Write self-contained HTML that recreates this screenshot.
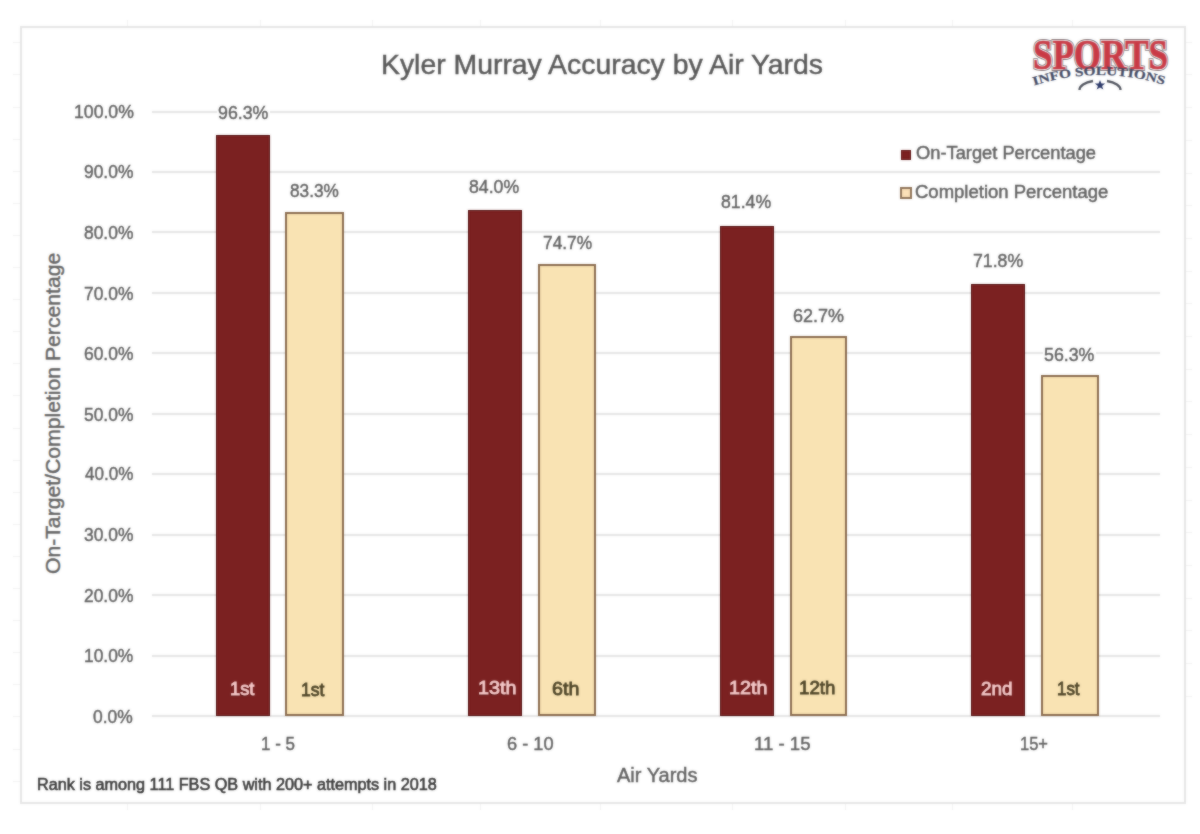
<!DOCTYPE html>
<html><head><meta charset="utf-8"><style>
html,body{margin:0;padding:0;background:#ffffff;}
body{width:1200px;height:834px;position:relative;overflow:hidden;font-family:"Liberation Sans",sans-serif;}
#w{position:absolute;left:0;top:0;width:1200px;height:834px;}
.t{position:absolute;white-space:nowrap;transform-origin:0 0;-webkit-text-stroke:0.45px currentColor;}
.g{position:absolute;height:2px;background:#e6e6e6;box-shadow:0 0 1px #ececec;}
.bar{position:absolute;box-sizing:border-box;}
.w2{position:absolute;left:0;top:0;width:1200px;height:834px;background:#fff;filter:blur(1px);opacity:0.5;}
</style></head><body><div id="w">
<div style="position:absolute;left:20px;top:26px;width:1166px;height:778px;box-sizing:border-box;border:2px solid #e6e6e6;"></div>
<div style="position:absolute;left:13px;top:42.3px;width:7px;height:1px;background:#f3f3f3;"></div><div style="position:absolute;left:13px;top:74.4px;width:7px;height:1px;background:#f3f3f3;"></div><div style="position:absolute;left:13px;top:106.5px;width:7px;height:1px;background:#f3f3f3;"></div><div style="position:absolute;left:13px;top:138.6px;width:7px;height:1px;background:#f3f3f3;"></div><div style="position:absolute;left:13px;top:170.7px;width:7px;height:1px;background:#f3f3f3;"></div><div style="position:absolute;left:13px;top:202.8px;width:7px;height:1px;background:#f3f3f3;"></div><div style="position:absolute;left:13px;top:234.9px;width:7px;height:1px;background:#f3f3f3;"></div><div style="position:absolute;left:13px;top:267.0px;width:7px;height:1px;background:#f3f3f3;"></div><div style="position:absolute;left:13px;top:299.1px;width:7px;height:1px;background:#f3f3f3;"></div><div style="position:absolute;left:13px;top:331.2px;width:7px;height:1px;background:#f3f3f3;"></div><div style="position:absolute;left:13px;top:363.3px;width:7px;height:1px;background:#f3f3f3;"></div><div style="position:absolute;left:13px;top:395.4px;width:7px;height:1px;background:#f3f3f3;"></div><div style="position:absolute;left:13px;top:427.5px;width:7px;height:1px;background:#f3f3f3;"></div><div style="position:absolute;left:13px;top:459.6px;width:7px;height:1px;background:#f3f3f3;"></div><div style="position:absolute;left:13px;top:491.7px;width:7px;height:1px;background:#f3f3f3;"></div><div style="position:absolute;left:13px;top:523.8px;width:7px;height:1px;background:#f3f3f3;"></div><div style="position:absolute;left:13px;top:555.9px;width:7px;height:1px;background:#f3f3f3;"></div><div style="position:absolute;left:13px;top:588.0px;width:7px;height:1px;background:#f3f3f3;"></div><div style="position:absolute;left:13px;top:620.1px;width:7px;height:1px;background:#f3f3f3;"></div><div style="position:absolute;left:13px;top:652.2px;width:7px;height:1px;background:#f3f3f3;"></div><div style="position:absolute;left:13px;top:684.3px;width:7px;height:1px;background:#f3f3f3;"></div><div style="position:absolute;left:13px;top:716.4px;width:7px;height:1px;background:#f3f3f3;"></div><div style="position:absolute;left:13px;top:748.5px;width:7px;height:1px;background:#f3f3f3;"></div><div style="position:absolute;left:13px;top:780.6px;width:7px;height:1px;background:#f3f3f3;"></div><div style="position:absolute;left:127px;top:20px;width:1px;height:6px;background:#f3f3f3;"></div><div style="position:absolute;left:127px;top:804px;width:1px;height:6px;background:#f3f3f3;"></div><div style="position:absolute;left:260px;top:20px;width:1px;height:6px;background:#f3f3f3;"></div><div style="position:absolute;left:260px;top:804px;width:1px;height:6px;background:#f3f3f3;"></div><div style="position:absolute;left:372px;top:20px;width:1px;height:6px;background:#f3f3f3;"></div><div style="position:absolute;left:372px;top:804px;width:1px;height:6px;background:#f3f3f3;"></div><div style="position:absolute;left:480px;top:20px;width:1px;height:6px;background:#f3f3f3;"></div><div style="position:absolute;left:480px;top:804px;width:1px;height:6px;background:#f3f3f3;"></div><div style="position:absolute;left:600px;top:20px;width:1px;height:6px;background:#f3f3f3;"></div><div style="position:absolute;left:600px;top:804px;width:1px;height:6px;background:#f3f3f3;"></div><div style="position:absolute;left:732px;top:20px;width:1px;height:6px;background:#f3f3f3;"></div><div style="position:absolute;left:732px;top:804px;width:1px;height:6px;background:#f3f3f3;"></div><div style="position:absolute;left:845px;top:20px;width:1px;height:6px;background:#f3f3f3;"></div><div style="position:absolute;left:845px;top:804px;width:1px;height:6px;background:#f3f3f3;"></div><div style="position:absolute;left:952px;top:20px;width:1px;height:6px;background:#f3f3f3;"></div><div style="position:absolute;left:952px;top:804px;width:1px;height:6px;background:#f3f3f3;"></div><div style="position:absolute;left:1072px;top:20px;width:1px;height:6px;background:#f3f3f3;"></div><div style="position:absolute;left:1072px;top:804px;width:1px;height:6px;background:#f3f3f3;"></div><div style="position:absolute;left:1186px;top:695.7px;width:6px;height:1px;background:#f3f3f3;"></div><div style="position:absolute;left:1186px;top:663.0px;width:6px;height:1px;background:#f3f3f3;"></div><div style="position:absolute;left:1186px;top:630.3px;width:6px;height:1px;background:#f3f3f3;"></div><div style="position:absolute;left:1186px;top:597.6px;width:6px;height:1px;background:#f3f3f3;"></div><div style="position:absolute;left:1186px;top:564.9px;width:6px;height:1px;background:#f3f3f3;"></div><div style="position:absolute;left:1186px;top:532.2px;width:6px;height:1px;background:#f3f3f3;"></div><div style="position:absolute;left:1186px;top:499.5px;width:6px;height:1px;background:#f3f3f3;"></div><div style="position:absolute;left:1186px;top:466.8px;width:6px;height:1px;background:#f3f3f3;"></div><div style="position:absolute;left:1186px;top:434.1px;width:6px;height:1px;background:#f3f3f3;"></div><div style="position:absolute;left:1186px;top:401.4px;width:6px;height:1px;background:#f3f3f3;"></div><div style="position:absolute;left:1186px;top:368.7px;width:6px;height:1px;background:#f3f3f3;"></div><div style="position:absolute;left:1186px;top:336.0px;width:6px;height:1px;background:#f3f3f3;"></div><div style="position:absolute;left:1186px;top:303.3px;width:6px;height:1px;background:#f3f3f3;"></div><div style="position:absolute;left:1186px;top:270.6px;width:6px;height:1px;background:#f3f3f3;"></div><div style="position:absolute;left:1186px;top:237.9px;width:6px;height:1px;background:#f3f3f3;"></div><div style="position:absolute;left:1186px;top:205.2px;width:6px;height:1px;background:#f3f3f3;"></div><div style="position:absolute;left:1186px;top:172.5px;width:6px;height:1px;background:#f3f3f3;"></div><div style="position:absolute;left:1186px;top:139.8px;width:6px;height:1px;background:#f3f3f3;"></div><div style="position:absolute;left:1186px;top:107.1px;width:6px;height:1px;background:#f3f3f3;"></div><div style="position:absolute;left:1186px;top:74.4px;width:6px;height:1px;background:#f3f3f3;"></div><div style="position:absolute;left:1186px;top:41.7px;width:6px;height:1px;background:#f3f3f3;"></div>
<div class="g" style="left:152px;top:715.0px;width:1008px;"></div>
<div class="g" style="left:152px;top:654.5px;width:1008px;"></div>
<div class="g" style="left:152px;top:594.1px;width:1008px;"></div>
<div class="g" style="left:152px;top:533.6px;width:1008px;"></div>
<div class="g" style="left:152px;top:473.2px;width:1008px;"></div>
<div class="g" style="left:152px;top:412.8px;width:1008px;"></div>
<div class="g" style="left:152px;top:352.3px;width:1008px;"></div>
<div class="g" style="left:152px;top:291.8px;width:1008px;"></div>
<div class="g" style="left:152px;top:231.4px;width:1008px;"></div>
<div class="g" style="left:152px;top:170.9px;width:1008px;"></div>
<div class="g" style="left:152px;top:110.5px;width:1008px;"></div>
<div class="bar" style="left:215.6px;top:135.1px;width:54.7px;height:580.9px;background:#7b2121;border:1.8px solid #520c0c;"></div>
<div class="bar" style="left:468.4px;top:209.6px;width:53.4px;height:506.4px;background:#7b2121;border:1.8px solid #520c0c;"></div>
<div class="bar" style="left:719.8px;top:225.9px;width:54.6px;height:490.1px;background:#7b2121;border:1.8px solid #520c0c;"></div>
<div class="bar" style="left:971.1px;top:283.7px;width:54.2px;height:432.3px;background:#7b2121;border:1.8px solid #520c0c;"></div>
<div class="bar" style="left:285.2px;top:211.5px;width:59.1px;height:504.5px;background:#f9e3b3;border:2px solid #8a6b4e;"></div>
<div class="bar" style="left:537.8px;top:264.2px;width:58.1px;height:451.8px;background:#f9e3b3;border:2px solid #8a6b4e;"></div>
<div class="bar" style="left:789.6px;top:335.8px;width:57.9px;height:380.2px;background:#f9e3b3;border:2px solid #8a6b4e;"></div>
<div class="bar" style="left:1041.0px;top:375.1px;width:57.6px;height:340.9px;background:#f9e3b3;border:2px solid #8a6b4e;"></div>
<div style="position:absolute;left:216.9px;top:103.5px;width:52.8px;height:17.8px;background:#fff;"></div>
<div style="position:absolute;left:288.7px;top:182.2px;width:51.6px;height:17.1px;background:#fff;"></div>
<div style="position:absolute;left:468.0px;top:177.5px;width:52.9px;height:17.1px;background:#fff;"></div>
<div style="position:absolute;left:541.6px;top:233.7px;width:51.9px;height:17.0px;background:#fff;"></div>
<div style="position:absolute;left:719.9px;top:193.3px;width:52.9px;height:17.0px;background:#fff;"></div>
<div style="position:absolute;left:791.2px;top:305.4px;width:53.0px;height:18.1px;background:#fff;"></div>
<div style="position:absolute;left:972.5px;top:251.4px;width:52.4px;height:17.2px;background:#fff;"></div>
<div style="position:absolute;left:1043.4px;top:345.3px;width:52.8px;height:17.3px;background:#fff;"></div>
<div class="t" style="left:381.37px;top:50.70px;font-size:28.00px;line-height:28.00px;font-weight:normal;color:#585858;transform:scaleX(1.0133);">Kyler Murray Accuracy by Air Yards</div>
<div class="t" style="left:93.00px;top:706.71px;font-size:19.00px;line-height:19.00px;font-weight:normal;color:#626262;transform:scaleX(0.9184);">0.0%</div>
<div class="t" style="left:84.49px;top:646.11px;font-size:19.00px;line-height:19.00px;font-weight:normal;color:#626262;transform:scaleX(0.9139);">10.0%</div>
<div class="t" style="left:84.40px;top:585.51px;font-size:19.00px;line-height:19.00px;font-weight:normal;color:#626262;transform:scaleX(0.9165);">20.0%</div>
<div class="t" style="left:84.40px;top:524.91px;font-size:19.00px;line-height:19.00px;font-weight:normal;color:#626262;transform:scaleX(0.9165);">30.0%</div>
<div class="t" style="left:85.40px;top:464.31px;font-size:19.00px;line-height:19.00px;font-weight:normal;color:#626262;transform:scaleX(0.8970);">40.0%</div>
<div class="t" style="left:84.40px;top:404.71px;font-size:19.00px;line-height:19.00px;font-weight:normal;color:#626262;transform:scaleX(0.9165);">50.0%</div>
<div class="t" style="left:84.40px;top:344.11px;font-size:19.00px;line-height:19.00px;font-weight:normal;color:#626262;transform:scaleX(0.9165);">60.0%</div>
<div class="t" style="left:84.40px;top:283.51px;font-size:19.00px;line-height:19.00px;font-weight:normal;color:#626262;transform:scaleX(0.9165);">70.0%</div>
<div class="t" style="left:84.40px;top:222.91px;font-size:19.00px;line-height:19.00px;font-weight:normal;color:#626262;transform:scaleX(0.9165);">80.0%</div>
<div class="t" style="left:84.40px;top:162.31px;font-size:19.00px;line-height:19.00px;font-weight:normal;color:#626262;transform:scaleX(0.9165);">90.0%</div>
<div class="t" style="left:73.87px;top:101.71px;font-size:19.00px;line-height:19.00px;font-weight:normal;color:#626262;transform:scaleX(0.9287);">100.0%</div>
<div class="t" style="left:218.20px;top:103.31px;font-size:19.00px;line-height:19.00px;font-weight:normal;color:#626262;transform:scaleX(0.9350);">96.3%</div>
<div class="t" style="left:289.60px;top:181.31px;font-size:19.00px;line-height:19.00px;font-weight:normal;color:#626262;transform:scaleX(0.9051);">83.3%</div>
<div class="t" style="left:469.00px;top:176.71px;font-size:19.00px;line-height:19.00px;font-weight:normal;color:#626262;transform:scaleX(0.9310);">84.0%</div>
<div class="t" style="left:542.80px;top:232.51px;font-size:19.00px;line-height:19.00px;font-weight:normal;color:#626262;transform:scaleX(0.9125);">74.7%</div>
<div class="t" style="left:721.20px;top:192.31px;font-size:19.00px;line-height:19.00px;font-weight:normal;color:#626262;transform:scaleX(0.9310);">81.4%</div>
<div class="t" style="left:792.60px;top:305.91px;font-size:19.00px;line-height:19.00px;font-weight:normal;color:#626262;transform:scaleX(0.9464);">62.7%</div>
<div class="t" style="left:973.00px;top:250.71px;font-size:19.00px;line-height:19.00px;font-weight:normal;color:#626262;transform:scaleX(0.9313);">71.8%</div>
<div class="t" style="left:1044.20px;top:344.71px;font-size:19.00px;line-height:19.00px;font-weight:normal;color:#626262;transform:scaleX(0.9350);">56.3%</div>
<div class="t" style="left:230.29px;top:678.81px;font-size:19.00px;line-height:19.00px;font-weight:normal;color:#f6caca;transform:scaleX(0.9601);-webkit-text-stroke:0.9px #f6caca;text-shadow:-0.5px 1px 1.5px rgba(50,0,0,.9),0 0 1px rgba(50,0,0,.6);">1st</div>
<div class="t" style="left:301.28px;top:679.51px;font-size:19.00px;line-height:19.00px;font-weight:normal;color:#4e4528;transform:scaleX(0.9222);-webkit-text-stroke:0.8px #4e4528;">1st</div>
<div class="t" style="left:477.76px;top:678.31px;font-size:19.00px;line-height:19.00px;font-weight:normal;color:#f6caca;transform:scaleX(1.0369);-webkit-text-stroke:0.9px #f6caca;text-shadow:-0.5px 1px 1.5px rgba(50,0,0,.9),0 0 1px rgba(50,0,0,.6);">13th</div>
<div class="t" style="left:552.00px;top:679.01px;font-size:19.00px;line-height:19.00px;font-weight:normal;color:#4e4528;transform:scaleX(1.0342);-webkit-text-stroke:0.8px #4e4528;">6th</div>
<div class="t" style="left:729.46px;top:678.41px;font-size:19.00px;line-height:19.00px;font-weight:normal;color:#f6caca;transform:scaleX(1.0369);-webkit-text-stroke:0.9px #f6caca;text-shadow:-0.5px 1px 1.5px rgba(50,0,0,.9),0 0 1px rgba(50,0,0,.6);">12th</div>
<div class="t" style="left:798.72px;top:678.41px;font-size:19.00px;line-height:19.00px;font-weight:normal;color:#4e4528;transform:scaleX(0.9829);-webkit-text-stroke:0.8px #4e4528;">12th</div>
<div class="t" style="left:981.20px;top:678.91px;font-size:19.00px;line-height:19.00px;font-weight:normal;color:#f6caca;transform:scaleX(0.9917);-webkit-text-stroke:0.9px #f6caca;text-shadow:-0.5px 1px 1.5px rgba(50,0,0,.9),0 0 1px rgba(50,0,0,.6);">2nd</div>
<div class="t" style="left:1057.11px;top:678.91px;font-size:19.00px;line-height:19.00px;font-weight:normal;color:#4e4528;transform:scaleX(0.8897);-webkit-text-stroke:0.8px #4e4528;">1st</div>
<div class="t" style="left:260.71px;top:733.51px;font-size:19.00px;line-height:19.00px;font-weight:normal;color:#626262;transform:scaleX(0.8949);">1 - 5</div>
<div class="t" style="left:507.00px;top:733.51px;font-size:19.00px;line-height:19.00px;font-weight:normal;color:#626262;transform:scaleX(0.9584);">6 - 10</div>
<div class="t" style="left:754.02px;top:733.51px;font-size:19.00px;line-height:19.00px;font-weight:normal;color:#626262;transform:scaleX(0.9794);">11 - 15</div>
<div class="t" style="left:1020.13px;top:733.51px;font-size:19.00px;line-height:19.00px;font-weight:normal;color:#626262;transform:scaleX(0.8681);">15+</div>
<div class="t" style="left:616.60px;top:764.87px;font-size:20.00px;line-height:20.00px;font-weight:normal;color:#626262;transform:scaleX(1.0007);">Air Yards</div>
<div class="t" style="left:37.42px;top:776.33px;font-size:16.50px;line-height:16.50px;font-weight:normal;color:#3c3c3c;transform:scaleX(0.9820);-webkit-text-stroke:0.6px currentColor;">Rank is among 111 FBS QB with 200+ attempts in 2018</div>
<div class="t" style="left:915.80px;top:145.38px;font-size:17.50px;line-height:17.50px;font-weight:normal;color:#626262;transform:scaleX(1.0453);">On-Target Percentage</div>
<div class="t" style="left:915.40px;top:183.98px;font-size:17.50px;line-height:17.50px;font-weight:normal;color:#626262;transform:scaleX(1.0574);">Completion Percentage</div>
<div class="t" style="left:43.44px;top:573.80px;font-size:20.50px;line-height:20.50px;color:#626262;transform:rotate(-90deg) scaleX(1.0326);">On-Target/Completion Percentage</div>
<div class="bar" style="left:901px;top:149.5px;width:10px;height:10px;background:#7b2121;border:1px solid #5e1212;"></div>
<div class="bar" style="left:900px;top:186.5px;width:12px;height:12px;background:#fbe0b8;border:2px solid #8f7358;"></div>
<svg style="position:absolute;left:0;top:0;" width="1200" height="110" viewBox="0 0 1200 110">
<defs><path id="arcp" d="M1034,85.5 Q1100,64.5 1166,85.5"/></defs>
<text x="1033" y="69" textLength="135" lengthAdjust="spacingAndGlyphs" font-family="Liberation Serif" font-weight="bold" font-size="42" fill="#8a8486" stroke="#8a8486" stroke-width="4">SPORTS</text>
<text x="1033" y="69" textLength="135" lengthAdjust="spacingAndGlyphs" font-family="Liberation Serif" font-weight="bold" font-size="42" fill="#f4e8ea" stroke="#f4e8ea" stroke-width="2.2">SPORTS</text>
<text x="1033" y="69" textLength="135" lengthAdjust="spacingAndGlyphs" font-family="Liberation Serif" font-weight="bold" font-size="42" fill="#c93a45" stroke="#c93a45" stroke-width="0.6">SPORTS</text>
<text font-family="Liberation Serif" font-weight="bold" font-size="12.5" fill="#3f4862" stroke="#3f4862" stroke-width="0.2"><textPath href="#arcp" textLength="132" lengthAdjust="spacingAndGlyphs">INFO SOLUTIONS</textPath></text>
<path d="M1079.5,90 A21,9.5 0 0,1 1093,81" fill="none" stroke="#50545e" stroke-width="2.3"/>
<path d="M1107,81 A21,9.5 0 0,1 1120.5,90" fill="none" stroke="#50545e" stroke-width="2.3"/>
<polygon points="1100,80 1101.4,83.6 1105.2,83.6 1102.1,85.9 1103.3,89.6 1100,87.4 1096.7,89.6 1097.9,85.9 1094.8,83.6 1098.6,83.6" fill="#2d3a6a"/>
</svg>
</div><div class="w2"><div style="position:absolute;left:20px;top:26px;width:1166px;height:778px;box-sizing:border-box;border:2px solid #e6e6e6;"></div>
<div style="position:absolute;left:13px;top:42.3px;width:7px;height:1px;background:#f3f3f3;"></div><div style="position:absolute;left:13px;top:74.4px;width:7px;height:1px;background:#f3f3f3;"></div><div style="position:absolute;left:13px;top:106.5px;width:7px;height:1px;background:#f3f3f3;"></div><div style="position:absolute;left:13px;top:138.6px;width:7px;height:1px;background:#f3f3f3;"></div><div style="position:absolute;left:13px;top:170.7px;width:7px;height:1px;background:#f3f3f3;"></div><div style="position:absolute;left:13px;top:202.8px;width:7px;height:1px;background:#f3f3f3;"></div><div style="position:absolute;left:13px;top:234.9px;width:7px;height:1px;background:#f3f3f3;"></div><div style="position:absolute;left:13px;top:267.0px;width:7px;height:1px;background:#f3f3f3;"></div><div style="position:absolute;left:13px;top:299.1px;width:7px;height:1px;background:#f3f3f3;"></div><div style="position:absolute;left:13px;top:331.2px;width:7px;height:1px;background:#f3f3f3;"></div><div style="position:absolute;left:13px;top:363.3px;width:7px;height:1px;background:#f3f3f3;"></div><div style="position:absolute;left:13px;top:395.4px;width:7px;height:1px;background:#f3f3f3;"></div><div style="position:absolute;left:13px;top:427.5px;width:7px;height:1px;background:#f3f3f3;"></div><div style="position:absolute;left:13px;top:459.6px;width:7px;height:1px;background:#f3f3f3;"></div><div style="position:absolute;left:13px;top:491.7px;width:7px;height:1px;background:#f3f3f3;"></div><div style="position:absolute;left:13px;top:523.8px;width:7px;height:1px;background:#f3f3f3;"></div><div style="position:absolute;left:13px;top:555.9px;width:7px;height:1px;background:#f3f3f3;"></div><div style="position:absolute;left:13px;top:588.0px;width:7px;height:1px;background:#f3f3f3;"></div><div style="position:absolute;left:13px;top:620.1px;width:7px;height:1px;background:#f3f3f3;"></div><div style="position:absolute;left:13px;top:652.2px;width:7px;height:1px;background:#f3f3f3;"></div><div style="position:absolute;left:13px;top:684.3px;width:7px;height:1px;background:#f3f3f3;"></div><div style="position:absolute;left:13px;top:716.4px;width:7px;height:1px;background:#f3f3f3;"></div><div style="position:absolute;left:13px;top:748.5px;width:7px;height:1px;background:#f3f3f3;"></div><div style="position:absolute;left:13px;top:780.6px;width:7px;height:1px;background:#f3f3f3;"></div><div style="position:absolute;left:127px;top:20px;width:1px;height:6px;background:#f3f3f3;"></div><div style="position:absolute;left:127px;top:804px;width:1px;height:6px;background:#f3f3f3;"></div><div style="position:absolute;left:260px;top:20px;width:1px;height:6px;background:#f3f3f3;"></div><div style="position:absolute;left:260px;top:804px;width:1px;height:6px;background:#f3f3f3;"></div><div style="position:absolute;left:372px;top:20px;width:1px;height:6px;background:#f3f3f3;"></div><div style="position:absolute;left:372px;top:804px;width:1px;height:6px;background:#f3f3f3;"></div><div style="position:absolute;left:480px;top:20px;width:1px;height:6px;background:#f3f3f3;"></div><div style="position:absolute;left:480px;top:804px;width:1px;height:6px;background:#f3f3f3;"></div><div style="position:absolute;left:600px;top:20px;width:1px;height:6px;background:#f3f3f3;"></div><div style="position:absolute;left:600px;top:804px;width:1px;height:6px;background:#f3f3f3;"></div><div style="position:absolute;left:732px;top:20px;width:1px;height:6px;background:#f3f3f3;"></div><div style="position:absolute;left:732px;top:804px;width:1px;height:6px;background:#f3f3f3;"></div><div style="position:absolute;left:845px;top:20px;width:1px;height:6px;background:#f3f3f3;"></div><div style="position:absolute;left:845px;top:804px;width:1px;height:6px;background:#f3f3f3;"></div><div style="position:absolute;left:952px;top:20px;width:1px;height:6px;background:#f3f3f3;"></div><div style="position:absolute;left:952px;top:804px;width:1px;height:6px;background:#f3f3f3;"></div><div style="position:absolute;left:1072px;top:20px;width:1px;height:6px;background:#f3f3f3;"></div><div style="position:absolute;left:1072px;top:804px;width:1px;height:6px;background:#f3f3f3;"></div><div style="position:absolute;left:1186px;top:695.7px;width:6px;height:1px;background:#f3f3f3;"></div><div style="position:absolute;left:1186px;top:663.0px;width:6px;height:1px;background:#f3f3f3;"></div><div style="position:absolute;left:1186px;top:630.3px;width:6px;height:1px;background:#f3f3f3;"></div><div style="position:absolute;left:1186px;top:597.6px;width:6px;height:1px;background:#f3f3f3;"></div><div style="position:absolute;left:1186px;top:564.9px;width:6px;height:1px;background:#f3f3f3;"></div><div style="position:absolute;left:1186px;top:532.2px;width:6px;height:1px;background:#f3f3f3;"></div><div style="position:absolute;left:1186px;top:499.5px;width:6px;height:1px;background:#f3f3f3;"></div><div style="position:absolute;left:1186px;top:466.8px;width:6px;height:1px;background:#f3f3f3;"></div><div style="position:absolute;left:1186px;top:434.1px;width:6px;height:1px;background:#f3f3f3;"></div><div style="position:absolute;left:1186px;top:401.4px;width:6px;height:1px;background:#f3f3f3;"></div><div style="position:absolute;left:1186px;top:368.7px;width:6px;height:1px;background:#f3f3f3;"></div><div style="position:absolute;left:1186px;top:336.0px;width:6px;height:1px;background:#f3f3f3;"></div><div style="position:absolute;left:1186px;top:303.3px;width:6px;height:1px;background:#f3f3f3;"></div><div style="position:absolute;left:1186px;top:270.6px;width:6px;height:1px;background:#f3f3f3;"></div><div style="position:absolute;left:1186px;top:237.9px;width:6px;height:1px;background:#f3f3f3;"></div><div style="position:absolute;left:1186px;top:205.2px;width:6px;height:1px;background:#f3f3f3;"></div><div style="position:absolute;left:1186px;top:172.5px;width:6px;height:1px;background:#f3f3f3;"></div><div style="position:absolute;left:1186px;top:139.8px;width:6px;height:1px;background:#f3f3f3;"></div><div style="position:absolute;left:1186px;top:107.1px;width:6px;height:1px;background:#f3f3f3;"></div><div style="position:absolute;left:1186px;top:74.4px;width:6px;height:1px;background:#f3f3f3;"></div><div style="position:absolute;left:1186px;top:41.7px;width:6px;height:1px;background:#f3f3f3;"></div>
<div class="g" style="left:152px;top:715.0px;width:1008px;"></div>
<div class="g" style="left:152px;top:654.5px;width:1008px;"></div>
<div class="g" style="left:152px;top:594.1px;width:1008px;"></div>
<div class="g" style="left:152px;top:533.6px;width:1008px;"></div>
<div class="g" style="left:152px;top:473.2px;width:1008px;"></div>
<div class="g" style="left:152px;top:412.8px;width:1008px;"></div>
<div class="g" style="left:152px;top:352.3px;width:1008px;"></div>
<div class="g" style="left:152px;top:291.8px;width:1008px;"></div>
<div class="g" style="left:152px;top:231.4px;width:1008px;"></div>
<div class="g" style="left:152px;top:170.9px;width:1008px;"></div>
<div class="g" style="left:152px;top:110.5px;width:1008px;"></div>
<div class="bar" style="left:215.6px;top:135.1px;width:54.7px;height:580.9px;background:#7b2121;border:1.8px solid #520c0c;"></div>
<div class="bar" style="left:468.4px;top:209.6px;width:53.4px;height:506.4px;background:#7b2121;border:1.8px solid #520c0c;"></div>
<div class="bar" style="left:719.8px;top:225.9px;width:54.6px;height:490.1px;background:#7b2121;border:1.8px solid #520c0c;"></div>
<div class="bar" style="left:971.1px;top:283.7px;width:54.2px;height:432.3px;background:#7b2121;border:1.8px solid #520c0c;"></div>
<div class="bar" style="left:285.2px;top:211.5px;width:59.1px;height:504.5px;background:#f9e3b3;border:2px solid #8a6b4e;"></div>
<div class="bar" style="left:537.8px;top:264.2px;width:58.1px;height:451.8px;background:#f9e3b3;border:2px solid #8a6b4e;"></div>
<div class="bar" style="left:789.6px;top:335.8px;width:57.9px;height:380.2px;background:#f9e3b3;border:2px solid #8a6b4e;"></div>
<div class="bar" style="left:1041.0px;top:375.1px;width:57.6px;height:340.9px;background:#f9e3b3;border:2px solid #8a6b4e;"></div>
<div style="position:absolute;left:216.9px;top:103.5px;width:52.8px;height:17.8px;background:#fff;"></div>
<div style="position:absolute;left:288.7px;top:182.2px;width:51.6px;height:17.1px;background:#fff;"></div>
<div style="position:absolute;left:468.0px;top:177.5px;width:52.9px;height:17.1px;background:#fff;"></div>
<div style="position:absolute;left:541.6px;top:233.7px;width:51.9px;height:17.0px;background:#fff;"></div>
<div style="position:absolute;left:719.9px;top:193.3px;width:52.9px;height:17.0px;background:#fff;"></div>
<div style="position:absolute;left:791.2px;top:305.4px;width:53.0px;height:18.1px;background:#fff;"></div>
<div style="position:absolute;left:972.5px;top:251.4px;width:52.4px;height:17.2px;background:#fff;"></div>
<div style="position:absolute;left:1043.4px;top:345.3px;width:52.8px;height:17.3px;background:#fff;"></div>
<div class="t" style="left:381.37px;top:50.70px;font-size:28.00px;line-height:28.00px;font-weight:normal;color:#585858;transform:scaleX(1.0133);">Kyler Murray Accuracy by Air Yards</div>
<div class="t" style="left:93.00px;top:706.71px;font-size:19.00px;line-height:19.00px;font-weight:normal;color:#626262;transform:scaleX(0.9184);">0.0%</div>
<div class="t" style="left:84.49px;top:646.11px;font-size:19.00px;line-height:19.00px;font-weight:normal;color:#626262;transform:scaleX(0.9139);">10.0%</div>
<div class="t" style="left:84.40px;top:585.51px;font-size:19.00px;line-height:19.00px;font-weight:normal;color:#626262;transform:scaleX(0.9165);">20.0%</div>
<div class="t" style="left:84.40px;top:524.91px;font-size:19.00px;line-height:19.00px;font-weight:normal;color:#626262;transform:scaleX(0.9165);">30.0%</div>
<div class="t" style="left:85.40px;top:464.31px;font-size:19.00px;line-height:19.00px;font-weight:normal;color:#626262;transform:scaleX(0.8970);">40.0%</div>
<div class="t" style="left:84.40px;top:404.71px;font-size:19.00px;line-height:19.00px;font-weight:normal;color:#626262;transform:scaleX(0.9165);">50.0%</div>
<div class="t" style="left:84.40px;top:344.11px;font-size:19.00px;line-height:19.00px;font-weight:normal;color:#626262;transform:scaleX(0.9165);">60.0%</div>
<div class="t" style="left:84.40px;top:283.51px;font-size:19.00px;line-height:19.00px;font-weight:normal;color:#626262;transform:scaleX(0.9165);">70.0%</div>
<div class="t" style="left:84.40px;top:222.91px;font-size:19.00px;line-height:19.00px;font-weight:normal;color:#626262;transform:scaleX(0.9165);">80.0%</div>
<div class="t" style="left:84.40px;top:162.31px;font-size:19.00px;line-height:19.00px;font-weight:normal;color:#626262;transform:scaleX(0.9165);">90.0%</div>
<div class="t" style="left:73.87px;top:101.71px;font-size:19.00px;line-height:19.00px;font-weight:normal;color:#626262;transform:scaleX(0.9287);">100.0%</div>
<div class="t" style="left:218.20px;top:103.31px;font-size:19.00px;line-height:19.00px;font-weight:normal;color:#626262;transform:scaleX(0.9350);">96.3%</div>
<div class="t" style="left:289.60px;top:181.31px;font-size:19.00px;line-height:19.00px;font-weight:normal;color:#626262;transform:scaleX(0.9051);">83.3%</div>
<div class="t" style="left:469.00px;top:176.71px;font-size:19.00px;line-height:19.00px;font-weight:normal;color:#626262;transform:scaleX(0.9310);">84.0%</div>
<div class="t" style="left:542.80px;top:232.51px;font-size:19.00px;line-height:19.00px;font-weight:normal;color:#626262;transform:scaleX(0.9125);">74.7%</div>
<div class="t" style="left:721.20px;top:192.31px;font-size:19.00px;line-height:19.00px;font-weight:normal;color:#626262;transform:scaleX(0.9310);">81.4%</div>
<div class="t" style="left:792.60px;top:305.91px;font-size:19.00px;line-height:19.00px;font-weight:normal;color:#626262;transform:scaleX(0.9464);">62.7%</div>
<div class="t" style="left:973.00px;top:250.71px;font-size:19.00px;line-height:19.00px;font-weight:normal;color:#626262;transform:scaleX(0.9313);">71.8%</div>
<div class="t" style="left:1044.20px;top:344.71px;font-size:19.00px;line-height:19.00px;font-weight:normal;color:#626262;transform:scaleX(0.9350);">56.3%</div>
<div class="t" style="left:230.29px;top:678.81px;font-size:19.00px;line-height:19.00px;font-weight:normal;color:#f6caca;transform:scaleX(0.9601);-webkit-text-stroke:0.9px #f6caca;text-shadow:-0.5px 1px 1.5px rgba(50,0,0,.9),0 0 1px rgba(50,0,0,.6);">1st</div>
<div class="t" style="left:301.28px;top:679.51px;font-size:19.00px;line-height:19.00px;font-weight:normal;color:#4e4528;transform:scaleX(0.9222);-webkit-text-stroke:0.8px #4e4528;">1st</div>
<div class="t" style="left:477.76px;top:678.31px;font-size:19.00px;line-height:19.00px;font-weight:normal;color:#f6caca;transform:scaleX(1.0369);-webkit-text-stroke:0.9px #f6caca;text-shadow:-0.5px 1px 1.5px rgba(50,0,0,.9),0 0 1px rgba(50,0,0,.6);">13th</div>
<div class="t" style="left:552.00px;top:679.01px;font-size:19.00px;line-height:19.00px;font-weight:normal;color:#4e4528;transform:scaleX(1.0342);-webkit-text-stroke:0.8px #4e4528;">6th</div>
<div class="t" style="left:729.46px;top:678.41px;font-size:19.00px;line-height:19.00px;font-weight:normal;color:#f6caca;transform:scaleX(1.0369);-webkit-text-stroke:0.9px #f6caca;text-shadow:-0.5px 1px 1.5px rgba(50,0,0,.9),0 0 1px rgba(50,0,0,.6);">12th</div>
<div class="t" style="left:798.72px;top:678.41px;font-size:19.00px;line-height:19.00px;font-weight:normal;color:#4e4528;transform:scaleX(0.9829);-webkit-text-stroke:0.8px #4e4528;">12th</div>
<div class="t" style="left:981.20px;top:678.91px;font-size:19.00px;line-height:19.00px;font-weight:normal;color:#f6caca;transform:scaleX(0.9917);-webkit-text-stroke:0.9px #f6caca;text-shadow:-0.5px 1px 1.5px rgba(50,0,0,.9),0 0 1px rgba(50,0,0,.6);">2nd</div>
<div class="t" style="left:1057.11px;top:678.91px;font-size:19.00px;line-height:19.00px;font-weight:normal;color:#4e4528;transform:scaleX(0.8897);-webkit-text-stroke:0.8px #4e4528;">1st</div>
<div class="t" style="left:260.71px;top:733.51px;font-size:19.00px;line-height:19.00px;font-weight:normal;color:#626262;transform:scaleX(0.8949);">1 - 5</div>
<div class="t" style="left:507.00px;top:733.51px;font-size:19.00px;line-height:19.00px;font-weight:normal;color:#626262;transform:scaleX(0.9584);">6 - 10</div>
<div class="t" style="left:754.02px;top:733.51px;font-size:19.00px;line-height:19.00px;font-weight:normal;color:#626262;transform:scaleX(0.9794);">11 - 15</div>
<div class="t" style="left:1020.13px;top:733.51px;font-size:19.00px;line-height:19.00px;font-weight:normal;color:#626262;transform:scaleX(0.8681);">15+</div>
<div class="t" style="left:616.60px;top:764.87px;font-size:20.00px;line-height:20.00px;font-weight:normal;color:#626262;transform:scaleX(1.0007);">Air Yards</div>
<div class="t" style="left:37.42px;top:776.33px;font-size:16.50px;line-height:16.50px;font-weight:normal;color:#3c3c3c;transform:scaleX(0.9820);-webkit-text-stroke:0.6px currentColor;">Rank is among 111 FBS QB with 200+ attempts in 2018</div>
<div class="t" style="left:915.80px;top:145.38px;font-size:17.50px;line-height:17.50px;font-weight:normal;color:#626262;transform:scaleX(1.0453);">On-Target Percentage</div>
<div class="t" style="left:915.40px;top:183.98px;font-size:17.50px;line-height:17.50px;font-weight:normal;color:#626262;transform:scaleX(1.0574);">Completion Percentage</div>
<div class="t" style="left:43.44px;top:573.80px;font-size:20.50px;line-height:20.50px;color:#626262;transform:rotate(-90deg) scaleX(1.0326);">On-Target/Completion Percentage</div>
<div class="bar" style="left:901px;top:149.5px;width:10px;height:10px;background:#7b2121;border:1px solid #5e1212;"></div>
<div class="bar" style="left:900px;top:186.5px;width:12px;height:12px;background:#fbe0b8;border:2px solid #8f7358;"></div>
<svg style="position:absolute;left:0;top:0;" width="1200" height="110" viewBox="0 0 1200 110">
<defs><path id="arcp2" d="M1034,85.5 Q1100,64.5 1166,85.5"/></defs>
<text x="1033" y="69" textLength="135" lengthAdjust="spacingAndGlyphs" font-family="Liberation Serif" font-weight="bold" font-size="42" fill="#8a8486" stroke="#8a8486" stroke-width="4">SPORTS</text>
<text x="1033" y="69" textLength="135" lengthAdjust="spacingAndGlyphs" font-family="Liberation Serif" font-weight="bold" font-size="42" fill="#f4e8ea" stroke="#f4e8ea" stroke-width="2.2">SPORTS</text>
<text x="1033" y="69" textLength="135" lengthAdjust="spacingAndGlyphs" font-family="Liberation Serif" font-weight="bold" font-size="42" fill="#c93a45" stroke="#c93a45" stroke-width="0.6">SPORTS</text>
<text font-family="Liberation Serif" font-weight="bold" font-size="12.5" fill="#3f4862" stroke="#3f4862" stroke-width="0.2"><textPath href="#arcp2" textLength="132" lengthAdjust="spacingAndGlyphs">INFO SOLUTIONS</textPath></text>
<path d="M1079.5,90 A21,9.5 0 0,1 1093,81" fill="none" stroke="#50545e" stroke-width="2.3"/>
<path d="M1107,81 A21,9.5 0 0,1 1120.5,90" fill="none" stroke="#50545e" stroke-width="2.3"/>
<polygon points="1100,80 1101.4,83.6 1105.2,83.6 1102.1,85.9 1103.3,89.6 1100,87.4 1096.7,89.6 1097.9,85.9 1094.8,83.6 1098.6,83.6" fill="#2d3a6a"/>
</svg>
</div></body></html>
